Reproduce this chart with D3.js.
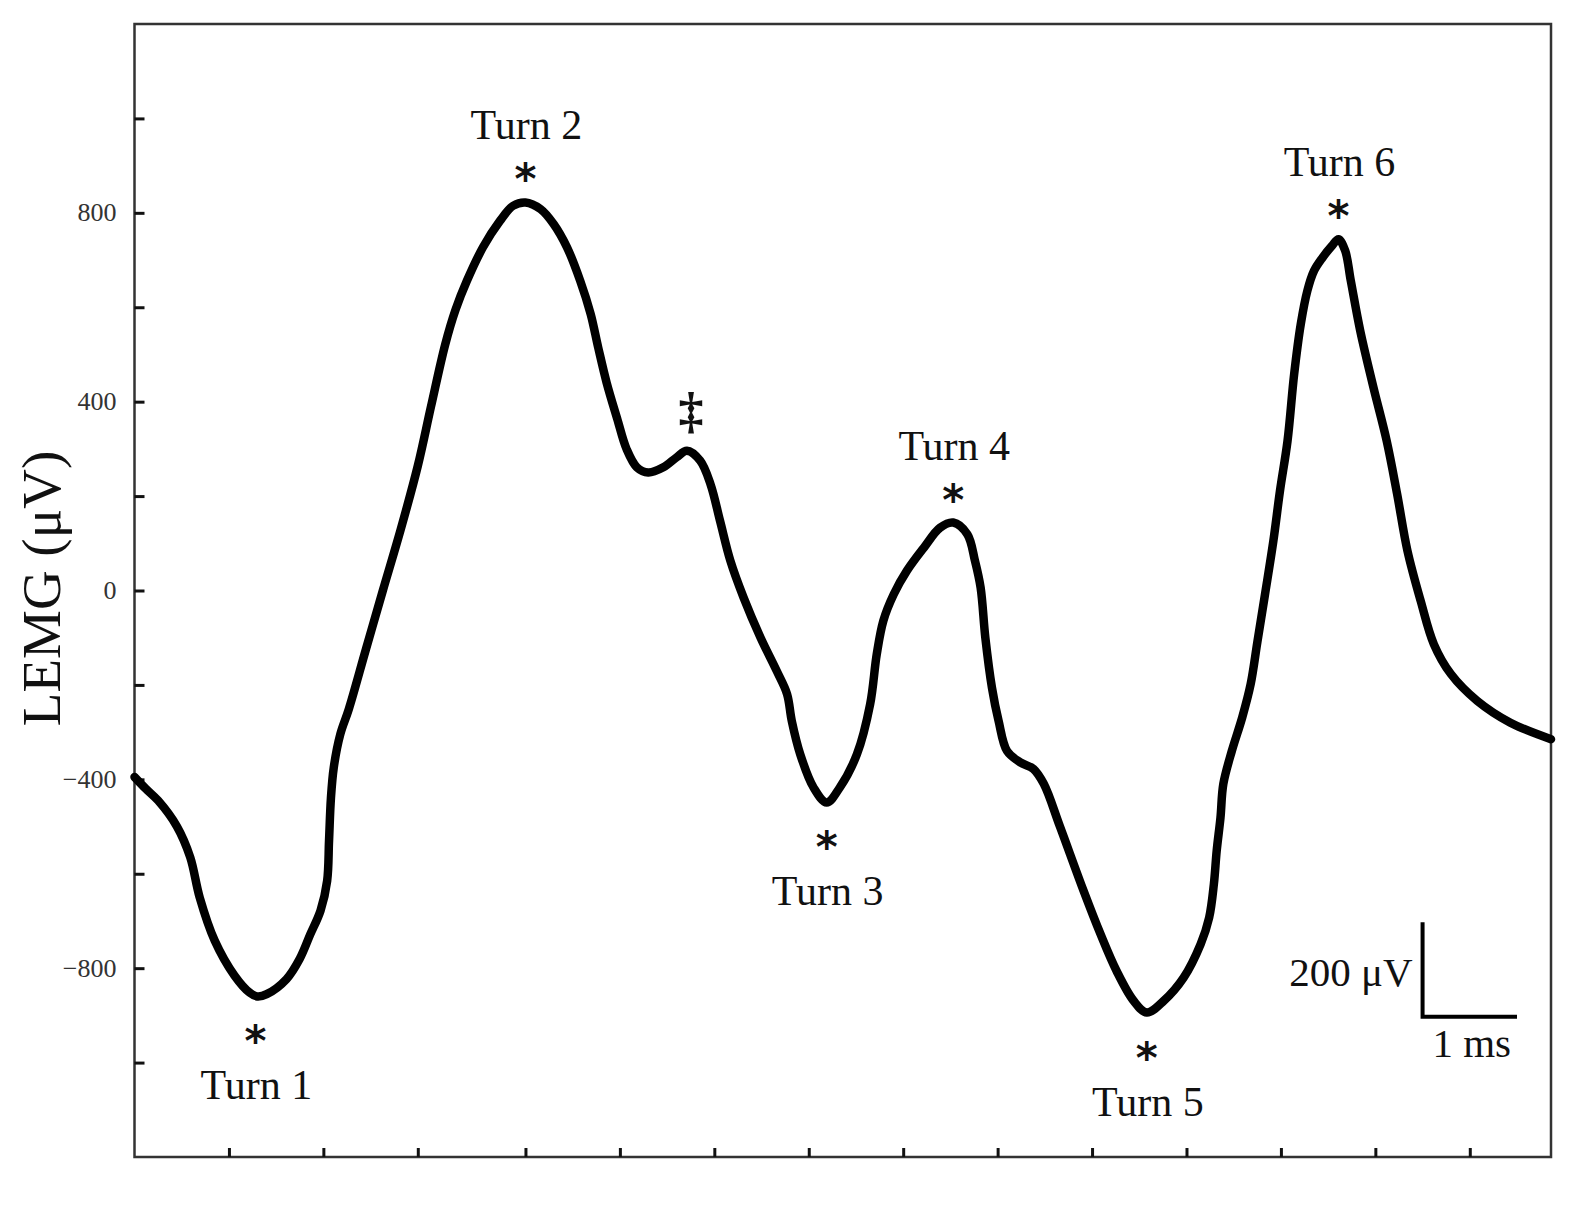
<!DOCTYPE html>
<html>
<head>
<meta charset="utf-8">
<script src="https://cdn.jsdelivr.net/npm/d3@7"></script>
<style>
  html, body { margin: 0; padding: 0; background: #fff; }
  svg { display: block; }
  text { font-family: "Liberation Serif", "DejaVu Serif", serif; fill: #111; }
</style>
</head>
<body>
<svg id="chart" width="1586" height="1206"></svg>
<script>
// ---- Data (time in ms, LEMG in µV) ----
const timeMs = [0.00, 0.12, 0.25, 0.45, 0.59, 0.69, 0.85, 1.06, 1.22, 1.30, 1.40, 1.61, 1.75, 1.86, 1.97, 2.04, 2.06, 2.08, 2.11, 2.18,
  2.27, 2.45, 2.63, 2.82, 3.00, 3.14, 3.29, 3.40, 3.52, 3.69, 3.87, 4.01, 4.14, 4.30, 4.44, 4.58, 4.72, 4.83, 4.91, 5.00, 5.11,
  5.21, 5.32, 5.44, 5.60, 5.74, 5.85, 5.99, 6.10, 6.20, 6.31, 6.45, 6.63, 6.80, 6.91, 6.96, 7.05, 7.19, 7.33, 7.47, 7.65,
  7.79, 7.86, 7.93, 8.04, 8.18, 8.36, 8.53, 8.67, 8.82, 8.90, 8.96, 9.01, 9.08, 9.15, 9.24, 9.38, 9.52, 9.63, 9.80, 10.05,
  10.23, 10.40, 10.58, 10.72, 10.90, 11.11, 11.29, 11.38, 11.43, 11.46, 11.50, 11.53, 11.62, 11.73, 11.82, 11.89, 11.97, 12.06, 12.13, 12.21,
  12.28, 12.35, 12.42, 12.49, 12.58, 12.68, 12.75, 12.82, 12.88, 12.98, 13.12, 13.26, 13.37, 13.48, 13.62, 13.76, 13.94, 14.22, 14.57, 15.00];
const lemgUv = [-395, -420, -445, -500, -565, -650, -742, -816, -852, -860, -855, -823, -780, -729, -678, -615, -530, -440, -375, -304,
  -251, -125, 0, 130, 264, 390, 521, 595, 656, 727, 783, 815, 822, 808, 776, 727, 656, 586, 515, 440, 365,
  300, 261, 250, 261, 282, 296, 275, 225, 148, 63, -15, -100, -170, -219, -276, -347, -417, -449, -417, -347,
  -241, -135, -64, -8, 42, 91, 133, 144, 119, 63, 6, -100, -206, -276, -340, -364, -378, -410, -500, -636,
  -728, -806, -869, -894, -869, -820, -749, -693, -622, -551, -481, -410, -340, -269, -198, -110, -10, 105, 211, 317,
  458, 564, 635, 677, 705, 730, 744, 720, 656, 550, 430, 317, 205, 84, -22, -114, -177, -234, -280, -315];

const yTickValues = [-1000, -800, -600, -400, -200, 0, 200, 400, 600, 800, 1000];
const yTickLabels = [-800, -400, 0, 400, 800];
const xTickValues = [1, 2, 3, 4.14, 5.14, 6.14, 7.14, 8.14, 9.14, 10.14, 11.14, 12.14, 13.14, 14.14];

// Annotations: label, time, value at the turn, side (above/below)
const turnLabels = ["Turn 1", "Turn 2", "Turn 3", "Turn 4", "Turn 5", "Turn 6"];
const turnTimes  = [1.28, 4.14, 7.33, 8.67, 10.72, 12.75];
const turnValues = [-860, 822, -449, 144, -894, 744];
const turnSides  = ["below", "above", "below", "above", "below", "above"];
const daggerTime = 5.85, daggerValue = 296;

const scaleBarTime = 13.64, scaleBarValue = -903; // corner of scale bar
const scaleBarDt = 1, scaleBarDv = 200;

// ---- Layout ----
const svg = d3.select("#chart");
const x = d3.scaleLinear().domain([0, 15]).range([134.5, 1551]);
const y = d3.scaleLinear().domain([-1200, 1200]).range([1157, 24]);

const data = timeMs.map((t, i) => ({t, v: lemgUv[i]}));

// Frame
svg.append("rect")
  .attr("x", x(0)).attr("y", y(1200))
  .attr("width", x(15) - x(0)).attr("height", y(-1200) - y(1200))
  .attr("fill", "none").attr("stroke", "#333").attr("stroke-width", 2.5);

// Y axis (ticks inward)
const yAxis = d3.axisRight(y).tickValues(yTickValues).tickSize(10).tickFormat("");
const gy = svg.append("g").attr("transform", `translate(${x(0)},0)`).call(yAxis);
gy.select(".domain").remove();
gy.selectAll(".tick line").attr("stroke", "#111").attr("stroke-width", 3);

svg.append("g").selectAll("text").data(yTickLabels).join("text")
  .attr("x", x(0) - 18).attr("y", d => y(d))
  .attr("text-anchor", "end").attr("dominant-baseline", "central")
  .attr("font-size", 26).style("fill", "#333")
  .text(d => d3.format("d")(d));

// X axis (ticks inward)
const xAxis = d3.axisTop(x).tickValues(xTickValues).tickSize(9).tickFormat("");
const gx = svg.append("g").attr("transform", `translate(0,${y(-1200)})`).call(xAxis);
gx.select(".domain").remove();
gx.selectAll(".tick line").attr("stroke", "#111").attr("stroke-width", 3);

// Y axis title
svg.append("text")
  .attr("transform", `translate(60,${(y(1200) + y(-1200)) / 2 - 2}) rotate(-90)`)
  .attr("text-anchor", "middle")
  .attr("font-size", 55)
  .text("LEMG (μV)");

// Signal line
const line = d3.line().x(d => x(d.t)).y(d => y(d.v)).curve(d3.curveCatmullRom.alpha(0.5));
svg.append("path").datum(data)
  .attr("d", line)
  .attr("fill", "none").attr("stroke", "#000").attr("stroke-width", 8.5)
  .attr("stroke-linejoin", "round").attr("stroke-linecap", "round");

// Turn annotations
const ann = svg.append("g");
turnLabels.forEach((lab, i) => {
  const cx = x(turnTimes[i]);
  const cy = y(turnValues[i]);
  const below = turnSides[i] === "below";
  const starY = below ? cy + 40 : cy - 28;
  const textY = below ? cy + 103 : cy - 63;
  ann.append("text")
    .attr("x", cx).attr("y", starY + 20)
    .attr("text-anchor", "middle")
    .attr("font-size", 42)
    .attr("font-weight", "bold")
    .style("font-family", "'DejaVu Sans', sans-serif")
    .text("*");
  ann.append("text")
    .attr("x", cx + 1).attr("y", textY)
    .attr("text-anchor", "middle")
    .attr("font-size", 42)
    .text(lab);
});

// Double dagger
ann.append("text")
  .attr("x", x(daggerTime) + 4).attr("y", y(daggerValue) - 24)
  .attr("text-anchor", "middle")
  .attr("font-size", 50)
  .attr("font-weight", "bold")
  .text("‡");

// Scale bar
const sbx = x(scaleBarTime), sby = y(scaleBarValue);
svg.append("path")
  .attr("d", `M${sbx},${y(scaleBarValue + scaleBarDv)}L${sbx},${sby}L${x(scaleBarTime + scaleBarDt)},${sby}`)
  .attr("fill", "none").attr("stroke", "#000").attr("stroke-width", 4);
svg.append("text")
  .attr("x", sbx - 10).attr("y", (y(scaleBarValue + scaleBarDv) + sby) / 2 + 16)
  .attr("text-anchor", "end").attr("font-size", 41)
  .text("200 μV");
svg.append("text")
  .attr("x", (sbx + x(scaleBarTime + scaleBarDt)) / 2 + 2).attr("y", sby + 40)
  .attr("text-anchor", "middle").attr("font-size", 41)
  .text("1 ms");
</script>
</body>
</html>
